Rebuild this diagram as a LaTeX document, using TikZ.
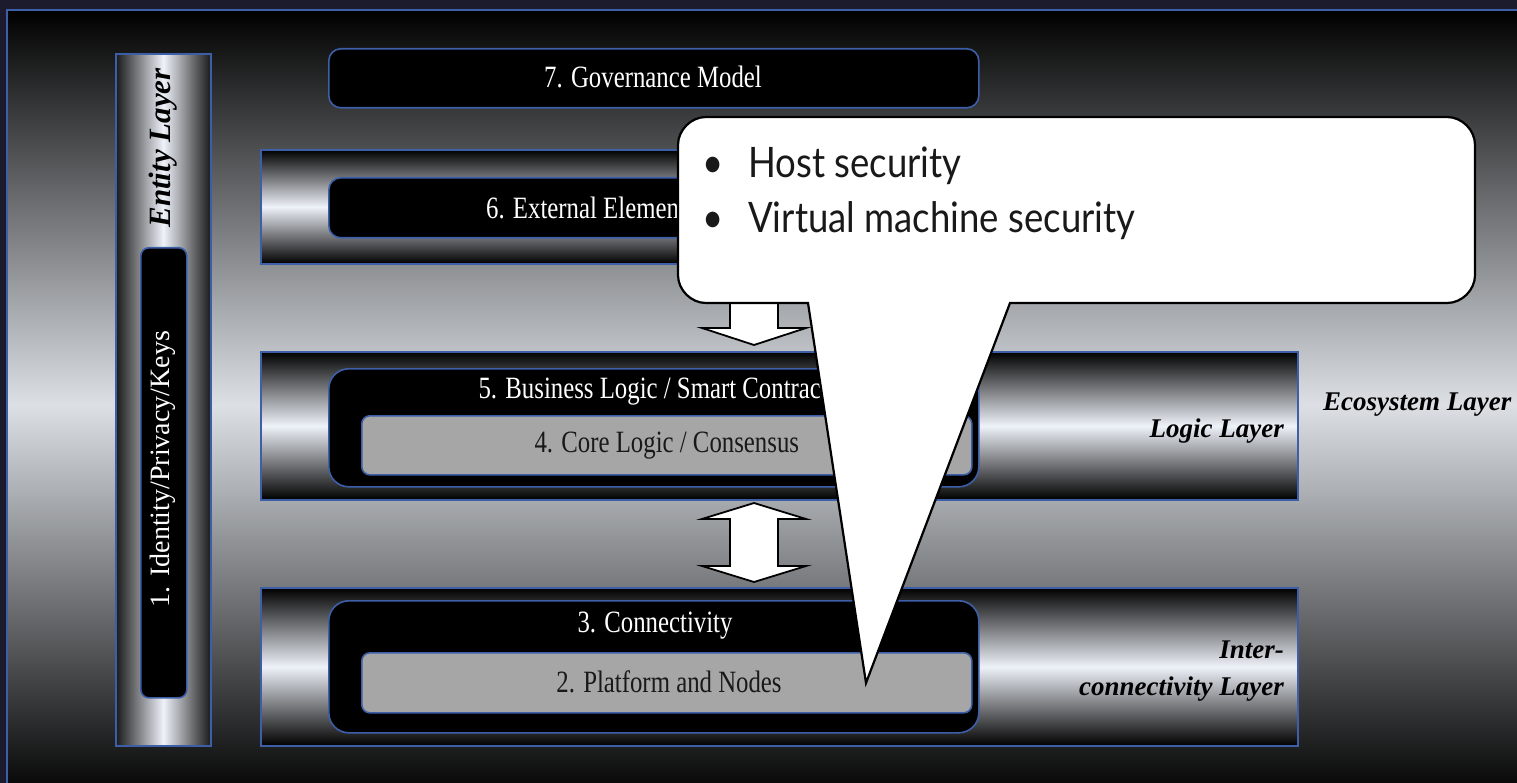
\documentclass[tikz,border=0pt]{standalone}
\usepackage{fontspec}
\setmainfont{Liberation Serif}
\newfontfamily\boxfont[FakeStretch=0.8]{Liberation Serif}
\newfontfamily\notefont[FakeStretch=0.87]{Lato}
\definecolor{navy}{HTML}{1C1B2E}
\definecolor{edgeblue}{HTML}{3D5FA8}
\definecolor{shine}{HTML}{EEF2F9}
\definecolor{bgmid}{HTML}{DCE0E5}
\definecolor{panelgray}{HTML}{A6A6A6}
\tikzset{
  tube/.style={draw=edgeblue, line width=1.6pt, top color=black, bottom color=black,
    middle color=shine, anchor=north west, inner sep=0pt, minimum width=1037pt},
  pillar/.style={draw=edgeblue, line width=1.6pt, left color=black!90, right color=black!90,
    middle color=shine, anchor=north west, inner sep=0pt},
  blackbox/.style={draw=edgeblue, line width=1.6pt, fill=black, anchor=north west,
    inner sep=0pt, rounded corners=#1},
  blackbox/.default=18pt,
  graybox/.style={draw=edgeblue, line width=1.6pt, fill=panelgray, anchor=north west,
    inner sep=0pt, rounded corners=8pt, minimum width=610pt},
  whitetxt/.style={text=white, font=\boxfont\fontsize{31}{36}\selectfont, inner sep=0pt},
  darktxt/.style={text=black!90, font=\boxfont\fontsize{31}{36}\selectfont, inner sep=0pt},
  laytxt/.style={text=black, font=\bfseries\itshape\fontsize{27}{31}\selectfont, inner sep=0pt},
  notetxt/.style={text=black!90, font=\notefont\fontsize{42}{48}\selectfont, inner sep=0pt},
  blockarrow/.style={fill=white, draw=black, line width=1.8pt, line join=miter},
}
\begin{document}
\begin{tikzpicture}[x=1pt, y=-1pt]
\useasboundingbox (0,0) rectangle (1517,783);
% frame and backdrop
\fill[navy] (0,0) rectangle (1517,783);
\shadedraw[top color=black, bottom color=black, middle color=bgmid, draw=edgeblue, line width=1.6pt]
  (7,10) rectangle (1540,800);

% entity pillar
\node[pillar, minimum width=95pt, minimum height=692pt] (entity) at (115,53) {};
\node[blackbox=8pt, minimum width=46pt, minimum height=450pt] (ident) at (140,247) {};
\node[laytxt, font=\bfseries\itshape\fontsize{31}{35}\selectfont, rotate=90] (entitylbl)
  at (163,148) {Entity Layer};
\node[text=white, font=\fontsize{28}{32}\selectfont, inner sep=0pt, rotate=90] (identlbl)
  at (163,469) {1. Identity/Privacy/Keys};

% governance
\node[blackbox=12pt, minimum width=650pt, minimum height=59pt] (gov) at (328,48) {};
\node[whitetxt] (govlbl) at (653,77) {7. Governance Model};

% external elements tube
\node[tube, minimum height=114pt] (tube6) at (260,149) {};
\node[blackbox=12pt, minimum width=524pt, minimum height=60pt] (ext) at (328,177) {};
\node[whitetxt] (extlbl) at (ext.center) {6. External Elements};

% logic tube
\node[tube, minimum height=148pt] (tube5) at (260,351) {};
\node[blackbox=20pt, minimum width=650pt, minimum height=118pt] (biz) at (328,368) {};
\node[graybox, minimum height=59pt] (core) at (361,415) {};
\node[whitetxt] (bizlbl) at (658,392) {5. Business Logic / Smart Contracts};
\node[darktxt] (corelbl) at (core.center) {4. Core Logic / Consensus};
\node[laytxt, anchor=base east] (logiclbl) at (1284,437) {Logic Layer};

% interconnectivity tube
\node[tube, minimum height=158pt] (tube3) at (260,587) {};
\node[blackbox=20pt, minimum width=650pt, minimum height=132pt] (conn) at (328,600) {};
\node[graybox, minimum height=60pt] (plat) at (361,652) {};
\node[whitetxt] (connlbl) at (655,626) {3. Connectivity};
\node[darktxt] (platlbl) at (669,682) {2. Platform and Nodes};
\node[laytxt, anchor=base east] (interA) at (1284,658) {Inter-};
\node[laytxt, anchor=base east] (interB) at (1284,695) {connectivity Layer};

\node[laytxt, anchor=base west] (ecolbl) at (1323,410) {Ecosystem Layer};

% block arrows between the tubes
\draw[blockarrow] (730,263) -- (778,263) -- (778,328) -- (806,328) -- (754,345)
  -- (702,328) -- (730,328) -- cycle;
\draw[blockarrow] (754,503) -- (806,519) -- (778,519) -- (778,566) -- (806,566)
  -- (754,582) -- (702,566) -- (730,566) -- (730,519) -- (702,519) -- cycle;

% callout
\draw[fill=white, draw=black, line width=2.2pt, line join=miter]
  (808,303) -- (866,683) -- (1010,303) -- (1447,303)
  .. controls (1462,303) and (1475,290) .. (1475,275) -- (1475,145)
  .. controls (1475,130) and (1462,117) .. (1447,117) -- (706,117)
  .. controls (691,117) and (678,130) .. (678,145) -- (678,275)
  .. controls (678,290) and (691,303) .. (706,303) -- cycle;
\node[notetxt, anchor=base] (bulA) at (713,178) {\textbullet};
\node[notetxt, anchor=base west] (noteA) at (748,178) {Host security};
\node[notetxt, anchor=base] (bulB) at (713,233) {\textbullet};
\node[notetxt, anchor=base west] (noteB) at (748,233) {Virtual machine security};
\end{tikzpicture}
\end{document}
